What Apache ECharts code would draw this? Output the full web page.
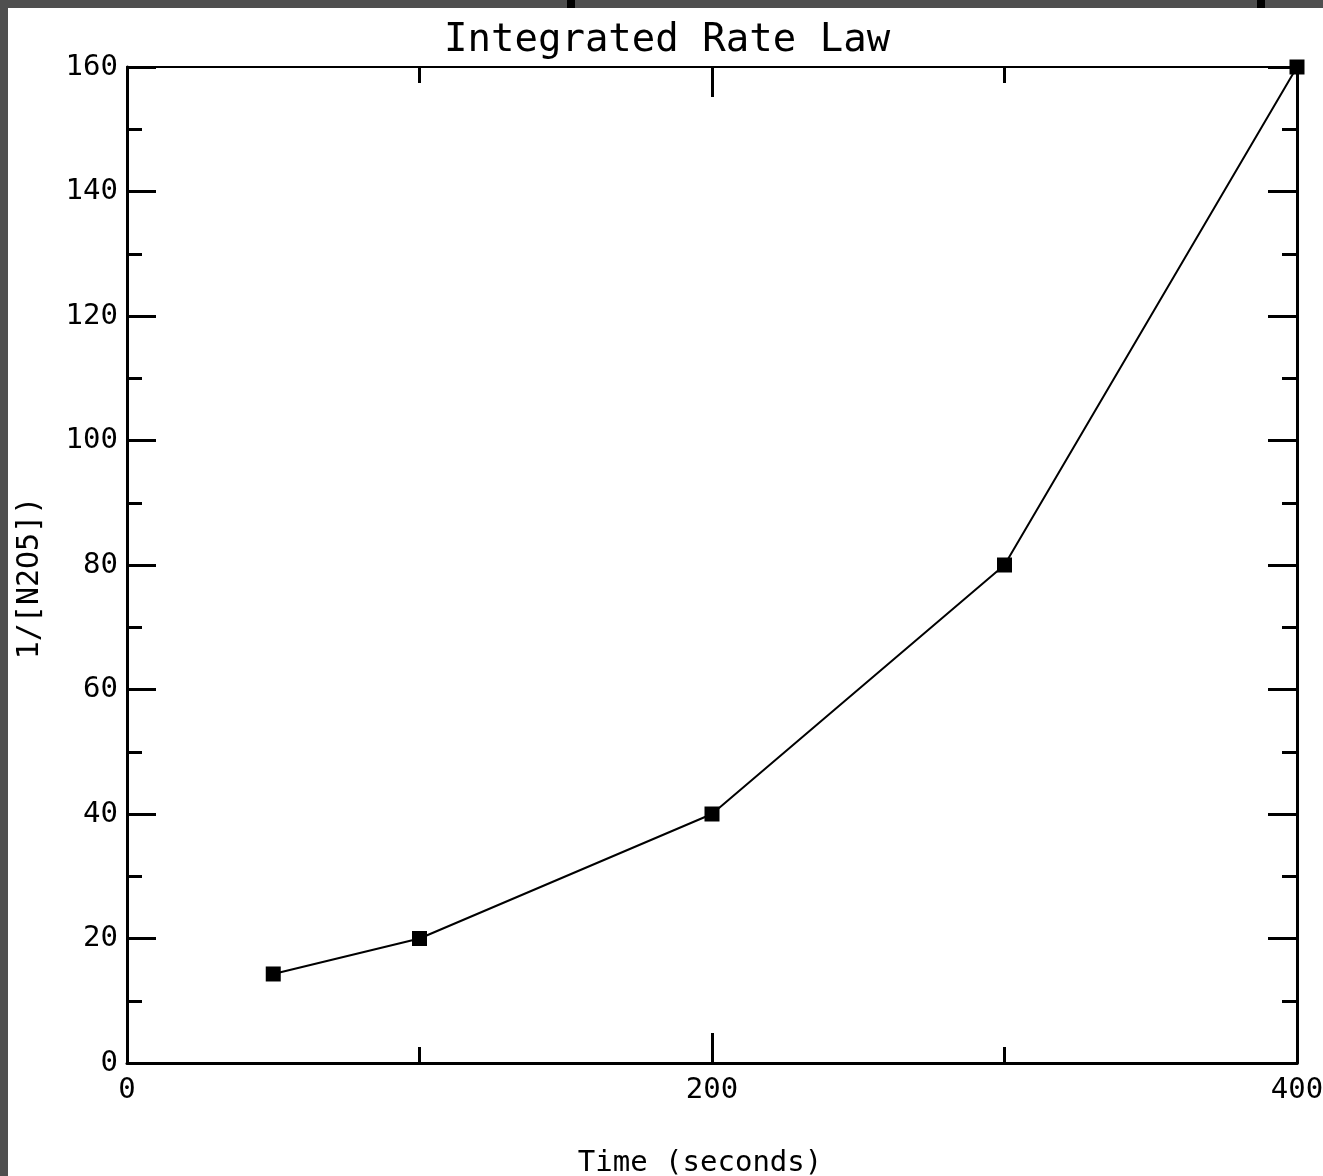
<!DOCTYPE html>
<html>
<head>
<meta charset="utf-8">
<title>Integrated Rate Law</title>
<script src="https://cdn.jsdelivr.net/npm/echarts@6/dist/echarts.min.js"></script>
<style>
  html, body { margin: 0; padding: 0; background: #ffffff; }
  #chart { width: 1323px; height: 1176px; }
</style>
</head>
<body>
<div id="chart"></div>
<script>
// data
const timeSeconds = [50, 100, 200, 300, 400];
const invConc = [14.3, 20, 40, 80, 160];

const xTicks = [0, 200, 400];
const yTicks = [0, 20, 40, 60, 80, 100, 120, 140, 160];

const font = "DejaVu Sans Mono";

var chartDom = document.getElementById("chart");
var myChart = echarts.init(chartDom, null, { renderer: "canvas" });

const axisBase = {
  axisLine: { show: true, onZero: false, lineStyle: { color: "#000", width: 3 } },
  splitLine: { show: false },
};

const opt = {
  backgroundColor: "#ffffff",
  animation: false,
  title: {
    text: "Integrated Rate Law",
    left: 444,
    top: 21,
    padding: 0,
    textStyle: { fontFamily: font, fontSize: 39, fontWeight: "normal", color: "#000" },
  },
  graphic: [
    { type: "rect", shape: { x: 0, y: 0, width: 1323, height: 8 }, style: { fill: "#4f4f4f" } },
    { type: "rect", shape: { x: 0, y: 0, width: 8, height: 1176 }, style: { fill: "#4f4f4f" } },
    { type: "rect", shape: { x: 567, y: 0, width: 8, height: 8 }, style: { fill: "#000" } },
    { type: "rect", shape: { x: 1257, y: 0, width: 8, height: 8 }, style: { fill: "#000" } },
  ],
  grid: {
    left: 127,
    right: 26,
    top: 67,
    bottom: 113,
    containLabel: false,
    outerBoundsMode: "none",
  },
  xAxis: [
    {
      ...axisBase,
      type: "value",
      position: "bottom",
      min: 0,
      max: 400,
      interval: 200,
      name: "Time (seconds)",
      nameLocation: "middle",
      nameGap: 86,
      nameTextStyle: { fontFamily: font, fontSize: 29, color: "#000", padding: [0, 24, 0, 0] },
      axisTick: { show: true, inside: true, length: 30, lineStyle: { color: "#000", width: 3 } },
      minorTick: { show: true, splitNumber: 2, length: 16, lineStyle: { color: "#000", width: 3 } },
      axisLabel: {
        fontFamily: font,
        fontSize: 29,
        color: "#000",
        margin: 13,
        customValues: xTicks,
      },
    },
    {
      ...axisBase,
      type: "value",
      position: "top",
      min: 0,
      max: 400,
      interval: 200,
      axisLine: { show: true, onZero: false, lineStyle: { color: "#000", width: 2 } },
      axisTick: { show: true, inside: true, length: 30, lineStyle: { color: "#000", width: 3 } },
      minorTick: { show: true, splitNumber: 2, length: 16, lineStyle: { color: "#000", width: 3 } },
      axisLabel: { show: false },
    },
  ],
  yAxis: [
    {
      ...axisBase,
      type: "value",
      position: "left",
      min: 0,
      max: 160,
      interval: 20,
      name: "1/[N2O5])",
      nameLocation: "middle",
      nameRotate: 90,
      nameGap: 82,
      nameTextStyle: { fontFamily: font, fontSize: 30, color: "#000", padding: [0, 26, 0, 0] },
      axisTick: { show: true, inside: true, length: 29, lineStyle: { color: "#000", width: 3 } },
      minorTick: { show: true, splitNumber: 2, length: 15, lineStyle: { color: "#000", width: 3 } },
      axisLabel: {
        fontFamily: font,
        fontSize: 29,
        color: "#000",
        margin: 9,
        customValues: yTicks,
      },
    },
    {
      ...axisBase,
      type: "value",
      position: "right",
      min: 0,
      max: 160,
      interval: 20,
      axisTick: { show: true, inside: true, length: 29, lineStyle: { color: "#000", width: 3 } },
      minorTick: { show: true, splitNumber: 2, length: 15, lineStyle: { color: "#000", width: 3 } },
      axisLabel: { show: false },
    },
  ],
  series: [
    {
      type: "line",
      xAxisIndex: 0,
      yAxisIndex: 0,
      data: timeSeconds.map((t, i) => [t, invConc[i]]),
      symbol: "rect",
      symbolSize: 15,
      showAllSymbol: true,
      lineStyle: { color: "#000", width: 2 },
      itemStyle: { color: "#000" },
      z: 5,
    },
  ],
};

myChart.setOption(opt);
</script>
</body>
</html>
